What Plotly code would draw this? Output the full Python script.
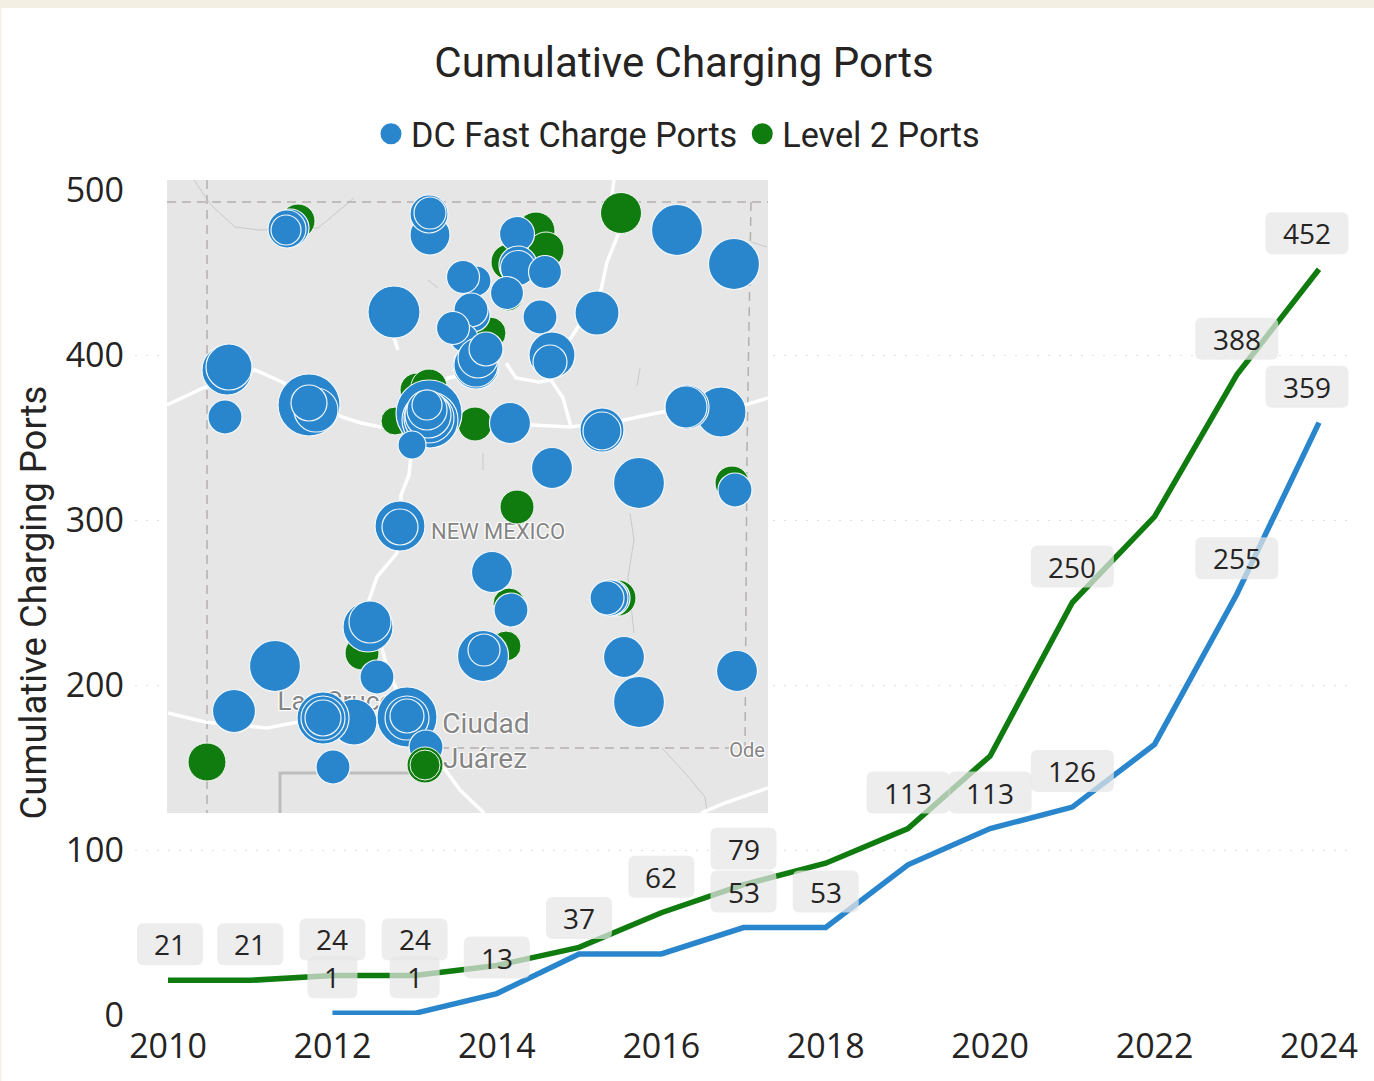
import plotly.graph_objects as go

W, H = 1374, 1081

# ---- line chart data ----
years = list(range(2010, 2025))
level2_ports = [21, 21, 24, 24, 30, 41, 62, 79, 92, 113, 157, 250, 302, 388, 452]
dc_years = list(range(2012, 2025))
dc_ports = [1, 1, 13, 37, 37, 53, 53, 91, 113, 126, 164, 255, 359]
level2_label_years = [2010, 2011, 2012, 2013, 2016, 2017, 2019, 2021, 2023, 2024]
dc_label_years = [2012, 2013, 2014, 2015, 2017, 2018, 2020, 2021, 2023, 2024]

# ---- map bubbles, read in map-plane units ----
l2_x = [621, 298, 536, 546, 509, 508, 490, 473, 417, 429, 395, 475, 732, 517, 509, 506, 362, 618, 207]
l2_y = [213, 221, 231, 250, 262, 296, 333, 368, 390, 387, 421, 424, 483, 507, 604, 646, 653, 598, 762]
l2_size = [41, 34, 38, 36, 36, 30, 32, 34, 34, 36, 28, 34, 34, 34, 32, 30, 34, 36, 38]

dc_x = [290, 287, 286, 430, 429, 430, 517, 518, 518, 545, 507, 476, 463, 394, 473, 471, 464, 453, 476, 476, 478, 486,
        540, 597, 677, 734, 552, 550, 227, 229, 225, 309, 316, 309, 429, 430, 429, 428, 427, 427, 412, 510, 602, 602,
        721, 687, 686, 552, 639, 735, 400, 400, 492, 511, 368, 370, 483, 484, 612, 610, 607, 624, 639, 737, 275, 234,
        377, 354, 323, 323, 323, 407, 407, 407, 426, 333]
dc_y = [228, 229, 230, 235, 214, 213, 234, 265, 268, 272, 293, 281, 277, 312, 315, 310, 338, 328, 366, 365, 358, 349,
        317, 313, 230, 264, 355, 362, 370, 367, 417, 405, 410, 403, 413, 420, 418, 415, 410, 405, 445, 423, 430, 431,
        412, 407, 407, 468, 483, 490, 526, 527, 572, 610, 627, 622, 656, 650, 598, 598, 598, 657, 702, 671, 666, 711,
        677, 722, 718, 718, 718, 717, 718, 716, 747, 767]
dc_size = [38, 38, 30, 40, 38, 32, 35, 38, 35, 33, 33, 30, 33, 52, 34, 34, 28, 33, 46, 44, 40, 34,
           34, 44, 51, 51, 46, 34, 50, 46, 34, 62, 44, 36, 66, 56, 50, 46, 40, 30, 28, 41, 44, 38,
           50, 44, 42, 41, 51, 34, 50, 36, 41, 34, 50, 42, 51, 32, 36, 36, 34, 41, 51, 41, 51, 43,
           34, 46, 52, 44, 36, 60, 44, 34, 34, 34]
l2_top_x = [425, 425]
l2_top_y = [765, 765]
l2_top_size = [36, 30]

# ---- map base: roads, borders, water ----
roads = [
    ([167, 203, 255, 282, 342, 361, 381, 474, 531, 571, 624, 662, 745, 768],
     [405, 388, 370, 382, 417, 423, 427, 423, 425, 427, 420, 412, 405, 398]),
    ([614, 610, 618, 607, 601, 571, 550], [180, 208, 235, 262, 290, 338, 350]),
    ([506, 516, 539, 551, 563, 571], [363, 378, 382, 380, 398, 427]),
    ([476, 448, 430], [372, 378, 392]),
    ([412, 409, 401, 400, 397, 377, 369, 385, 407, 445, 460, 484],
     [445, 475, 495, 526, 553, 577, 600, 660, 717, 770, 790, 813]),
    ([168, 205, 267, 298, 354, 405], [713, 722, 728, 722, 720, 723]),
    ([701, 725, 768], [813, 803, 788]),
    ([393, 398], [335, 350]),
]
water = [
    ([630, 634, 628, 634], [513, 540, 577, 633]),
    ([662, 685, 705, 707], [748, 773, 797, 812]),
    ([194, 207, 211, 235, 259, 318, 354], [180, 200, 205, 227, 230, 228, 198]),
    ([751, 767], [242, 247]),
    ([640, 637], [368, 386]),
    ([428, 438], [280, 288]),
    ([483, 483], [453, 470]),
]
state_border = [
    ([207, 207], [180, 813]),
    ([167, 768], [202, 202]),
    ([751, 747, 745], [202, 450, 748]),
    ([440, 745], [748, 748]),
]
mexico_border = ([280, 280, 409], [813, 773, 773])
place_names = ["NEW MEXICO", "Las Cruces", "Ciudad", "Juárez", "Ode"]
place_x = [498, 342, 486, 485, 747]
place_y = [533, 703, 726, 761, 752]
place_sizes = [22, 26, 28, 28, 20]

BLUE = "#2a86cc"
GREEN = "#107c10"
TXT = "#252423"


def dom_x(a, b):
    return [a / W, b / W]


def dom_y(top, bottom):
    return [1 - bottom / H, 1 - top / H]


fig = go.Figure()

# main lines
fig.add_trace(go.Scatter(x=years, y=level2_ports, mode="lines", line=dict(color=GREEN, width=5.5),
                         showlegend=False, hoverinfo="skip"))
fig.add_trace(go.Scatter(x=dc_years, y=dc_ports, mode="lines", line=dict(color=BLUE, width=5.5),
                         showlegend=False, hoverinfo="skip"))

# legend keys
fig.add_trace(go.Scatter(x=[None], y=[None], mode="markers", name="DC Fast Charge Ports", legendrank=1,
                         marker=dict(color=BLUE, size=16, line=dict(color=BLUE, width=5))))
fig.add_trace(go.Scatter(x=[None], y=[None], mode="markers", name="Level 2 Ports", legendrank=2,
                         marker=dict(color=GREEN, size=16, line=dict(color=GREEN, width=5))))

# map base
mapax = dict(xaxis="x2", yaxis="y2", showlegend=False, hoverinfo="skip")
for rx, ry in water:
    fig.add_trace(go.Scatter(x=rx, y=ry, mode="lines", line=dict(color="#c9c9c9", width=1), **mapax))
fig.add_trace(go.Scatter(x=mexico_border[0], y=mexico_border[1], mode="lines",
                         line=dict(color="#bdbdbd", width=3), **mapax))
for rx, ry in state_border:
    fig.add_trace(go.Scatter(x=rx, y=ry, mode="lines",
                             line=dict(color="#b4b0ae", width=1.5, dash="9px,6px"), **mapax))
for rx, ry in roads:
    fig.add_trace(go.Scatter(x=rx, y=ry, mode="lines", line=dict(color="#ffffff", width=3.5), **mapax))
for name, px_, py_, s in zip(place_names, place_x, place_y, place_sizes):
    fig.add_trace(go.Scatter(x=[px_], y=[py_], mode="text", text=[name],
                             textfont=dict(family="Roboto", size=s, color="#858585",
                                           shadow="1px 1px 1px #fff, -1px -1px 1px #fff, 1px -1px 1px #fff, -1px 1px 1px #fff"),
                             **mapax))

# bubbles
fig.add_trace(go.Scatter(x=l2_x, y=l2_y, mode="markers",
                         marker=dict(color=GREEN, size=l2_size, sizemode="diameter", opacity=1,
                                     line=dict(color="#f4f8f4", width=1)),
                         **mapax))
fig.add_trace(go.Scatter(x=dc_x, y=dc_y, mode="markers",
                         marker=dict(color=BLUE, size=dc_size, sizemode="diameter", opacity=1,
                                     line=dict(color="#f2f8fc", width=1.2)),
                         **mapax))
fig.add_trace(go.Scatter(x=l2_top_x, y=l2_top_y, mode="markers",
                         marker=dict(color=GREEN, size=l2_top_size, opacity=1, line=dict(color="#f4f8f4", width=1)),
                         **mapax))

# data labels
shapes = [
    dict(type="rect", xref="x2", yref="y2", x0=167, x1=768, y0=180, y1=813,
         fillcolor="#e6e6e6", line=dict(width=0), layer="below"),
    dict(type="rect", xref="paper", yref="paper", x0=0, x1=1, y0=1 - 8 / H, y1=1,
         fillcolor="#f3f0e3", line=dict(width=0), layer="below"),
    dict(type="rect", xref="paper", yref="paper", x0=0, x1=1.5 / W, y0=0, y1=1,
         fillcolor="#f3f0e3", line=dict(width=0), layer="below"),
]
annotations = []


def add_label(year, value, text_color=TXT):
    text = str(value)
    w = {1: 50, 2: 66, 3: 83}[len(text)]
    h = 42
    r = 7
    dx = -12 if year == 2024 else (2 if year == 2010 else 0)
    dy = 36
    l, rt, b, t = dx - w / 2, dx + w / 2, dy - h / 2, dy + h / 2
    path = (f"M {l + r} {b} L {rt - r} {b} Q {rt} {b} {rt} {b + r} L {rt} {t - r} Q {rt} {t} {rt - r} {t} "
            f"L {l + r} {t} Q {l} {t} {l} {t - r} L {l} {b + r} Q {l} {b} {l + r} {b} Z")
    shapes.append(dict(type="path", xref="x", yref="y", xsizemode="pixel", ysizemode="pixel",
                       xanchor=year, yanchor=value, path=path,
                       fillcolor="rgba(230,230,230,0.72)", line=dict(width=0), layer="above"))
    annotations.append(dict(x=year, y=value, xref="x", yref="y", text=text, showarrow=False,
                            xshift=dx, yshift=dy, font=dict(family="Open Sans", size=28, color=text_color)))


for yr in level2_label_years:
    add_label(yr, level2_ports[years.index(yr)])
for yr in dc_label_years:
    add_label(yr, dc_ports[dc_years.index(yr)])

PX = 82.2
L, R = 135, 1352
fig.update_layout(
    width=W, height=H,
    margin=dict(l=0, r=0, t=0, b=0, autoexpand=False),
    paper_bgcolor="#ffffff", plot_bgcolor="#ffffff",
    title=dict(text="Cumulative Charging Ports", x=684 / W, xanchor="center", y=1 - 62 / H, yanchor="middle",
               font=dict(family="Roboto", size=42, color=TXT)),
    legend=dict(orientation="h", x=678 / W, xanchor="center", y=1 - 134 / H, yanchor="middle",
                font=dict(family="Roboto", size=34.2, color=TXT), itemsizing="trace", itemwidth=30,
                bgcolor="rgba(0,0,0,0)"),
    xaxis=dict(domain=dom_x(L, R), range=[2010 - (168 - L) / PX, 2024 + (R - 1319) / PX], dtick=2, tick0=2010,
               showgrid=False, zeroline=False, showline=False, ticks="", automargin=False,
               tickfont=dict(family="Open Sans", size=34, color=TXT), ticklabelstandoff=8),
    yaxis=dict(domain=dom_y(190, 1015), range=[0, 500], dtick=100, showgrid=True, gridcolor="#e0e0e0",
               griddash="2px,9px", gridwidth=1, zeroline=False, showline=False, ticks="", automargin=False,
               tickfont=dict(family="Open Sans", size=34, color=TXT), ticklabelstandoff=10,
               title=dict(text="Cumulative Charging Ports", standoff=7,
                          font=dict(family="Roboto", size=36.5, color=TXT))),
    xaxis2=dict(domain=dom_x(167, 768), range=[167, 768], visible=False, anchor="y2"),
    yaxis2=dict(domain=dom_y(180, 813), range=[813, 180], visible=False, anchor="x2"),
    shapes=shapes, annotations=annotations,
)

fig.write_html("out.html", config={"displayModeBar": False}, post_script="document.body.style.margin='0';")
